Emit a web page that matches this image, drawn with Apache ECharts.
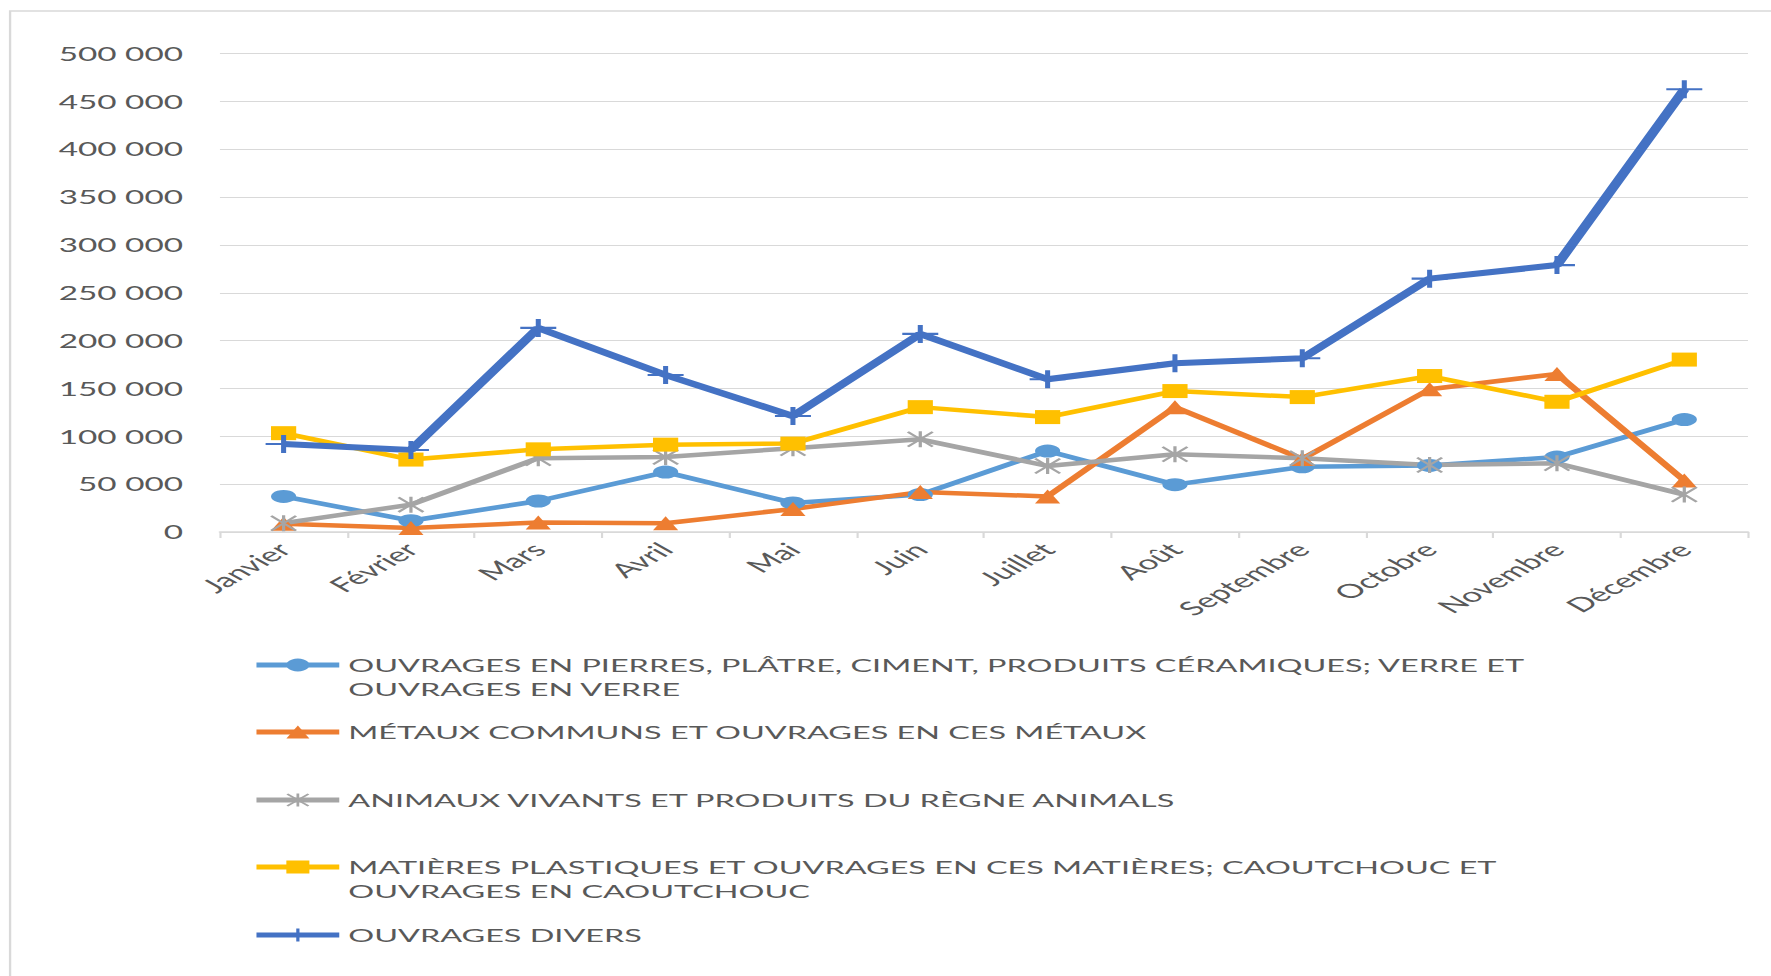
<!DOCTYPE html>
<html>
<head>
<meta charset="utf-8">
<script src="https://cdn.jsdelivr.net/npm/echarts@6/dist/echarts.min.js"></script>
<style>
    html, body { margin: 0; padding: 0; overflow: hidden; background: #fff; }
    /* the source picture is stretched sideways, so the chart is drawn narrow and widened */
    #main { width: 984px; height: 976px; transform: scaleX(1.7998); transform-origin: 0 0; }
</style>
</head>
<body>
<div id="main"></div>
<script>
const months = ['Janvier', 'Février', 'Mars', 'Avril', 'Mai', 'Juin', 'Juillet', 'Août', 'Septembre', 'Octobre', 'Novembre', 'Décembre'];

const pierres    = [37200, 11800, 32400, 62600, 30400, 39100, 84600, 49500, 68100, 69600, 78300, 117500];
const metaux     = [8500, 4300, 9900, 9200, 24100, 41700, 37200, 130500, 76400, 149200, 165200, 53900];
const animaux    = [9200, 28600, 77100, 78300, 87600, 96900, 69000, 81200, 77100, 70000, 71900, 39100];
const plastiques = [103300, 75700, 86400, 91300, 92400, 130500, 120100, 147300, 141000, 163000, 136100, 180200];
const divers     = [92000, 85700, 213300, 164100, 121200, 207000, 159600, 176400, 181600, 264800, 279000, 462700];

const seriesNames = [
    'OUVRAGES EN PIERRES, PLÂTRE, CIMENT, PRODUITS CÉRAMIQUES; VERRE ET OUVRAGES EN VERRE',
    'MÉTAUX COMMUNS ET OUVRAGES EN CES MÉTAUX',
    'ANIMAUX VIVANTS ET PRODUITS DU RÈGNE ANIMALS',
    'MATIÈRES PLASTIQUES ET OUVRAGES EN CES MATIÈRES; CAOUTCHOUC ET OUVRAGES EN CAOUTCHOUC',
    'OUVRAGES DIVERS'
];
// legend text as it wraps in the picture; the leading blank line keeps the icon on the first line
const legendLabels = [
    '\nOUVRAGES EN PIERRES, PLÂTRE, CIMENT, PRODUITS CÉRAMIQUES; VERRE ET\nOUVRAGES EN VERRE',
    'MÉTAUX COMMUNS ET OUVRAGES EN CES MÉTAUX',
    'ANIMAUX VIVANTS ET PRODUITS DU RÈGNE ANIMALS',
    '\nMATIÈRES PLASTIQUES ET OUVRAGES EN CES MATIÈRES; CAOUTCHOUC ET\nOUVRAGES EN CAOUTCHOUC',
    'OUVRAGES DIVERS'
];
const yMax = 500000;
const yStep = 50000;

const colors = ['#5B9BD5', '#ED7D31', '#A5A5A5', '#FFC000', '#4472C4'];
const FONT = 'Lato';
const TEXT = '#595959';

const plusPath = 'path://M0,4.4H10V5.6H0Z M4.3,0H5.7V10H4.3Z';
const starPath = 'path://M4.4,0H5.6V10H4.4Z M0.8,0L10,9.2L9.2,10L0,0.8Z M9.2,0L10,0.8L0.8,10L0,9.2Z';

function spaced(v) {
    return String(v).replace(/\B(?=(\d{3})+(?!\d))/g, ' ');
}

function makeSeries(i, data, symbol, size, width) {
    return {
        name: seriesNames[i],
        type: 'line',
        data: data,
        symbol: symbol,
        symbolSize: size,
        showAllSymbol: true,
        lineStyle: { color: colors[i], width: width },
        itemStyle: { color: colors[i] },
        emphasis: { disabled: true }
    };
}

const legendTops = [629, 720, 788, 831, 923];
const legends = seriesNames.map(function (name, i) {
    return {
        data: [name],
        orient: 'vertical',
        left: 140,
        top: legendTops[i],
        padding: 0,
        itemWidth: 46,
        itemHeight: 16,
        itemGap: 0,
        selectedMode: false,
        lineStyle: { width: 5 },
        formatter: function () { return legendLabels[i]; },
        textStyle: {
            fontFamily: FONT,
            fontSize: 18,
            color: TEXT,
            lineHeight: 24
        }
    };
});

const chart = echarts.init(document.getElementById('main'), null, { renderer: 'svg' });

const option = {
    animation: false,
    backgroundColor: '#fff',
    color: colors,
    graphic: [{
        type: 'rect',
        shape: { x: 5.6, y: 11, width: 1200, height: 1200 },
        style: { fill: 'none', stroke: '#D9D9D9', lineWidth: 1.3 },
        silent: true
    }],
    legend: legends,
    grid: { left: 122.2, right: 12.8, top: 53.6, bottom: 444, containLabel: false },
    xAxis: {
        type: 'category',
        data: months,
        boundaryGap: true,
        axisLine: { lineStyle: { color: '#D9D9D9', width: 1.5 } },
        axisTick: { show: true, length: 6, lineStyle: { color: '#D9D9D9', width: 1.2 } },
        axisLabel: {
            rotate: 45,
            margin: 14,
            interval: 0,
            fontFamily: FONT,
            fontSize: 19.5,
            color: TEXT
        }
    },
    yAxis: {
        type: 'value',
        min: 0,
        max: yMax,
        interval: yStep,
        axisLine: { show: false },
        axisTick: { show: false },
        splitLine: { lineStyle: { color: '#D9D9D9', width: 1 } },
        axisLabel: {
            margin: 20.5,
            fontFamily: FONT,
            fontSize: 18.5,
            color: TEXT,
            formatter: spaced
        }
    },
    series: [
        makeSeries(0, pierres, 'circle', [14, 13], 4.5),
        makeSeries(1, metaux, 'triangle', [14, 14], 4.5),
        makeSeries(2, animaux, starPath, [15, 16], 4.5),
        makeSeries(3, plastiques, 'rect', [14, 14], 4.5),
        makeSeries(4, divers, plusPath, [20, 18], 6)
    ]
};

chart.setOption(option);
</script>
</body>
</html>
